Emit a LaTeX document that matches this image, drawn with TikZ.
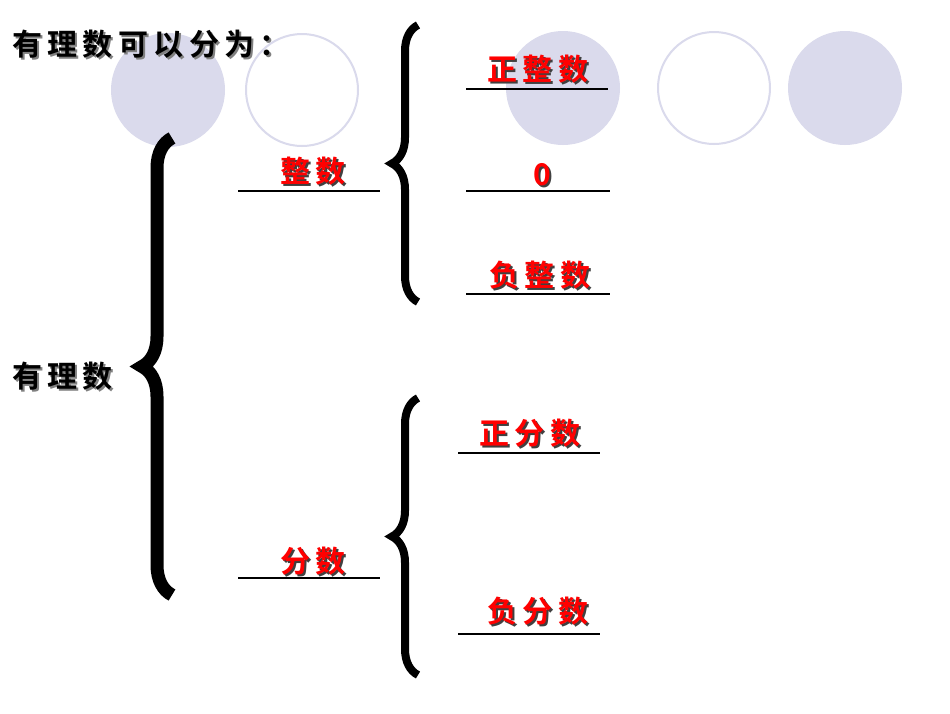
\documentclass[tikz,border=0pt]{standalone}
\usepackage{fontspec}
\newfontfamily\cjk[LetterSpace=18]{Noto Sans CJK SC Bold}
\usetikzlibrary{decorations.pathreplacing}
\newcommand{\shd}[2]{\rlap{\hspace{2pt}\raisebox{-2pt}{\color{#1}#2}}#2}
\begin{document}
\begin{tikzpicture}[x=1pt,y=-1pt,
  fillc/.style={fill=lav,draw=none},
  openc/.style={draw=lav,line width=2pt},
  blk/.style={font=\cjk\fontsize{30}{32}\selectfont,text=black},
  red/.style={font=\cjk\fontsize{30}{32}\selectfont,text=red},
  uline/.style={line width=2pt},
  br/.style={decorate,decoration={brace,amplitude=#1}}]
\definecolor{lav}{RGB}{218,218,236}
\useasboundingbox (0,0) rectangle (950,713);
\fill[white] (0,0) rectangle (950,713);
\fill[fillc] (168,90) circle (57);
\draw[openc] (302,90) circle (56);
\fill[fillc] (563,88) circle (57);
\draw[openc] (714,88) circle (56);
\fill[fillc] (845,88) circle (57);
\node[blk,anchor=west,inner sep=0] (t) at (12,45) {\shd{gray}{有理数可以分为：}};
\node[blk,anchor=west,inner sep=0] (r) at (12,377) {\shd{gray}{有理数}};
% braces
\draw[br=30,line width=13pt] (172,595) -- (172,138);
\draw[br=26,line width=8pt] (418,302) -- (418,25);
\draw[br=26,line width=8pt] (418,675) -- (418,398);
% labels
\foreach \n/\x/\y/\t/\a/\b/\u in {a/308/172/整数/238/380/191, b/308/562/分数/238/380/578, c/533/70/正整数/466/608/89, d/537/176/0/466/610/191, e/535/276/负整数/466/610/294, f/525/434/正分数/458/600/453, g/533/612/负分数/458/600/634}{
  \node[red,inner sep=0] (\n) at (\x+5,\y) {\shd{black!75}{\t}};
  \draw[uline] (\a,\u) -- (\b,\u);
}
\end{tikzpicture}
\end{document}
